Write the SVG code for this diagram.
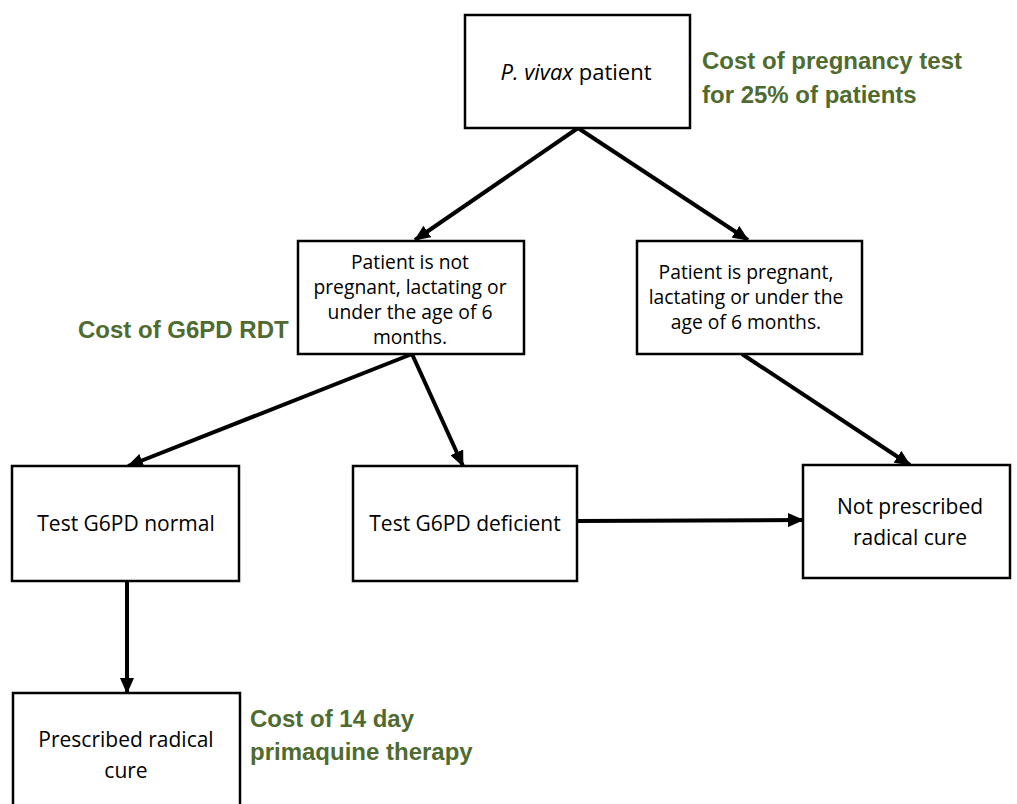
<svg xmlns="http://www.w3.org/2000/svg" width="1017" height="804" viewBox="0 0 1017 804">
<defs>
<marker id="ah" markerUnits="userSpaceOnUse" markerWidth="16" markerHeight="14" refX="15" refY="7" orient="auto">
<path d="M0,0 L16,7 L0,14 Z" fill="#000"/>
</marker>
<style>
.box{fill:#fff;stroke:#000;stroke-width:2.5}
.t{font-family:"Open Sans","Liberation Sans",Arial,sans-serif;fill:#000;text-anchor:middle}
.m{font-size:19.3px}
.l{font-size:21px}
.g{font-family:"Liberation Sans",Arial,sans-serif;font-weight:bold;font-size:24px;fill:#4f6b2f}
.c{stroke:#000;stroke-width:4;fill:none;marker-end:url(#ah)}
</style>
</defs>
<rect width="1017" height="804" fill="#fff"/>
<g id="connectors">
<line class="c" x1="578" y1="128" x2="415" y2="240"/>
<line class="c" x1="578" y1="128" x2="748" y2="240"/>
<line class="c" x1="412" y1="354" x2="128" y2="466"/>
<line class="c" x1="412" y1="354" x2="463" y2="466"/>
<line class="c" x1="742" y1="354" x2="910" y2="465"/>
<line class="c" x1="577" y1="521" x2="803" y2="520"/>
<line class="c" x1="127" y1="581" x2="127" y2="693"/>
</g>
<g id="n-vivax">
<rect class="box" x="465" y="15" width="225" height="113"/>
<text class="t" x="576" y="80" font-size="22px"><tspan font-style="italic">P. vivax</tspan> patient</text>
</g>
<g id="n-notpreg">
<rect class="box" x="298" y="241" width="226" height="113"/>
<text class="t m" x="410" y="269">Patient is not</text>
<text class="t m" x="410" y="294">pregnant, lactating or</text>
<text class="t m" x="410" y="319">under the age of 6</text>
<text class="t m" x="410" y="344">months.</text>
</g>
<g id="n-preg">
<rect class="box" x="637" y="241" width="225" height="113"/>
<text class="t m" x="746" y="279">Patient is pregnant,</text>
<text class="t m" x="746" y="304">lactating or under the</text>
<text class="t m" x="746" y="329">age of 6 months.</text>
</g>
<g id="n-normal">
<rect class="box" x="12" y="466" width="227" height="115"/>
<text class="t l" x="126" y="531">Test G6PD normal</text>
</g>
<g id="n-deficient">
<rect class="box" x="353" y="466" width="224" height="115"/>
<text class="t l" x="465" y="531">Test G6PD deficient</text>
</g>
<g id="n-notrx">
<rect class="box" x="803" y="465" width="207" height="113"/>
<text class="t l" x="910" y="514">Not prescribed</text>
<text class="t l" x="910" y="545">radical cure</text>
</g>
<g id="n-rx">
<rect class="box" x="13" y="693" width="227" height="120"/>
<text class="t l" x="126" y="747">Prescribed radical</text>
<text class="t l" x="126" y="778">cure</text>
</g>
<g id="labels">
<text class="g" x="702" y="69">Cost of pregnancy test</text>
<text class="g" x="702" y="103">for 25% of patients</text>
<text class="g" x="78" y="338">Cost of G6PD RDT</text>
<text class="g" x="250" y="727">Cost of 14 day</text>
<text class="g" x="250" y="760">primaquine therapy</text>
</g>
</svg>
